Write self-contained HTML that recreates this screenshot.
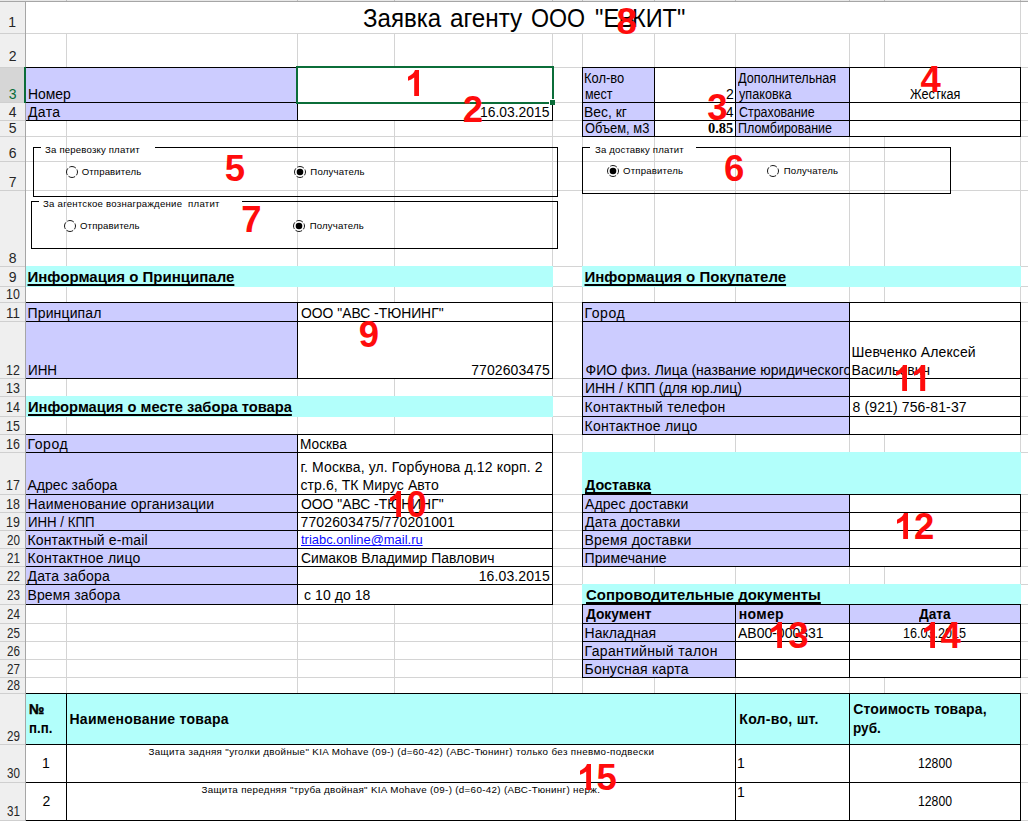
<!DOCTYPE html>
<html><head><meta charset="utf-8"><title>sheet</title>
<style>
html,body{margin:0;padding:0;background:#fff;}
#s{position:relative;width:1028px;height:821px;overflow:hidden;font-family:"Liberation Sans",sans-serif;color:#000;}
#s div,#s svg{position:absolute;}
#s .t{white-space:pre;}
</style></head><body><div id="s">
<div style="left:0px;top:0px;width:1028px;height:821px;background:#fff;"></div>
<div style="left:66px;top:2px;width:1px;height:819px;background:#d4d4d4;"></div>
<div style="left:297px;top:2px;width:1px;height:819px;background:#d4d4d4;"></div>
<div style="left:394px;top:2px;width:1px;height:819px;background:#d4d4d4;"></div>
<div style="left:552px;top:2px;width:1px;height:819px;background:#d4d4d4;"></div>
<div style="left:582px;top:2px;width:1px;height:819px;background:#d4d4d4;"></div>
<div style="left:654px;top:2px;width:1px;height:819px;background:#d4d4d4;"></div>
<div style="left:735px;top:2px;width:1px;height:819px;background:#d4d4d4;"></div>
<div style="left:849px;top:2px;width:1px;height:819px;background:#d4d4d4;"></div>
<div style="left:884px;top:2px;width:1px;height:819px;background:#d4d4d4;"></div>
<div style="left:1020px;top:2px;width:1px;height:819px;background:#d4d4d4;"></div>
<div style="left:26px;top:33px;width:1002px;height:1px;background:#d4d4d4;"></div>
<div style="left:26px;top:67px;width:1002px;height:1px;background:#d4d4d4;"></div>
<div style="left:26px;top:102px;width:1002px;height:1px;background:#d4d4d4;"></div>
<div style="left:26px;top:120px;width:1002px;height:1px;background:#d4d4d4;"></div>
<div style="left:26px;top:136px;width:1002px;height:1px;background:#d4d4d4;"></div>
<div style="left:26px;top:161px;width:1002px;height:1px;background:#d4d4d4;"></div>
<div style="left:26px;top:190px;width:1002px;height:1px;background:#d4d4d4;"></div>
<div style="left:26px;top:266px;width:1002px;height:1px;background:#d4d4d4;"></div>
<div style="left:26px;top:286px;width:1002px;height:1px;background:#d4d4d4;"></div>
<div style="left:26px;top:302px;width:1002px;height:1px;background:#d4d4d4;"></div>
<div style="left:26px;top:321px;width:1002px;height:1px;background:#d4d4d4;"></div>
<div style="left:26px;top:378px;width:1002px;height:1px;background:#d4d4d4;"></div>
<div style="left:26px;top:396px;width:1002px;height:1px;background:#d4d4d4;"></div>
<div style="left:26px;top:416px;width:1002px;height:1px;background:#d4d4d4;"></div>
<div style="left:26px;top:434px;width:1002px;height:1px;background:#d4d4d4;"></div>
<div style="left:26px;top:452px;width:1002px;height:1px;background:#d4d4d4;"></div>
<div style="left:26px;top:494px;width:1002px;height:1px;background:#d4d4d4;"></div>
<div style="left:26px;top:512px;width:1002px;height:1px;background:#d4d4d4;"></div>
<div style="left:26px;top:530px;width:1002px;height:1px;background:#d4d4d4;"></div>
<div style="left:26px;top:548px;width:1002px;height:1px;background:#d4d4d4;"></div>
<div style="left:26px;top:566px;width:1002px;height:1px;background:#d4d4d4;"></div>
<div style="left:26px;top:584px;width:1002px;height:1px;background:#d4d4d4;"></div>
<div style="left:26px;top:604px;width:1002px;height:1px;background:#d4d4d4;"></div>
<div style="left:26px;top:623px;width:1002px;height:1px;background:#d4d4d4;"></div>
<div style="left:26px;top:641px;width:1002px;height:1px;background:#d4d4d4;"></div>
<div style="left:26px;top:659px;width:1002px;height:1px;background:#d4d4d4;"></div>
<div style="left:26px;top:677px;width:1002px;height:1px;background:#d4d4d4;"></div>
<div style="left:26px;top:693px;width:1002px;height:1px;background:#d4d4d4;"></div>
<div style="left:26px;top:744px;width:1002px;height:1px;background:#d4d4d4;"></div>
<div style="left:26px;top:782px;width:1002px;height:1px;background:#d4d4d4;"></div>
<div style="left:26px;top:820px;width:1002px;height:1px;background:#d4d4d4;"></div>
<div style="left:26px;top:2px;width:994px;height:31px;background:#fff;"></div>
<div style="left:0px;top:0px;width:25px;height:821px;background:#efefef;"></div>
<div style="left:25px;top:0px;width:1px;height:821px;background:#a6a6a6;"></div>
<div style="left:0px;top:0px;width:1028px;height:1px;background:#e8e8e8;"></div>
<div style="left:0px;top:1px;width:1028px;height:1px;background:#a6a6a6;"></div>
<div style="left:66px;top:0px;width:1px;height:1px;background:#bdbdbd;"></div>
<div style="left:297px;top:0px;width:1px;height:1px;background:#bdbdbd;"></div>
<div style="left:394px;top:0px;width:1px;height:1px;background:#bdbdbd;"></div>
<div style="left:552px;top:0px;width:1px;height:1px;background:#bdbdbd;"></div>
<div style="left:582px;top:0px;width:1px;height:1px;background:#bdbdbd;"></div>
<div style="left:654px;top:0px;width:1px;height:1px;background:#bdbdbd;"></div>
<div style="left:735px;top:0px;width:1px;height:1px;background:#bdbdbd;"></div>
<div style="left:849px;top:0px;width:1px;height:1px;background:#bdbdbd;"></div>
<div style="left:884px;top:0px;width:1px;height:1px;background:#bdbdbd;"></div>
<div style="left:1020px;top:0px;width:1px;height:1px;background:#bdbdbd;"></div>
<div style="left:0px;top:33px;width:25px;height:1px;background:#cfcfcf;"></div>
<div style="left:0px;top:67px;width:25px;height:1px;background:#cfcfcf;"></div>
<div style="left:0px;top:102px;width:25px;height:1px;background:#cfcfcf;"></div>
<div style="left:0px;top:120px;width:25px;height:1px;background:#cfcfcf;"></div>
<div style="left:0px;top:136px;width:25px;height:1px;background:#cfcfcf;"></div>
<div style="left:0px;top:161px;width:25px;height:1px;background:#cfcfcf;"></div>
<div style="left:0px;top:190px;width:25px;height:1px;background:#cfcfcf;"></div>
<div style="left:0px;top:266px;width:25px;height:1px;background:#cfcfcf;"></div>
<div style="left:0px;top:286px;width:25px;height:1px;background:#cfcfcf;"></div>
<div style="left:0px;top:302px;width:25px;height:1px;background:#cfcfcf;"></div>
<div style="left:0px;top:321px;width:25px;height:1px;background:#cfcfcf;"></div>
<div style="left:0px;top:378px;width:25px;height:1px;background:#cfcfcf;"></div>
<div style="left:0px;top:396px;width:25px;height:1px;background:#cfcfcf;"></div>
<div style="left:0px;top:416px;width:25px;height:1px;background:#cfcfcf;"></div>
<div style="left:0px;top:434px;width:25px;height:1px;background:#cfcfcf;"></div>
<div style="left:0px;top:452px;width:25px;height:1px;background:#cfcfcf;"></div>
<div style="left:0px;top:494px;width:25px;height:1px;background:#cfcfcf;"></div>
<div style="left:0px;top:512px;width:25px;height:1px;background:#cfcfcf;"></div>
<div style="left:0px;top:530px;width:25px;height:1px;background:#cfcfcf;"></div>
<div style="left:0px;top:548px;width:25px;height:1px;background:#cfcfcf;"></div>
<div style="left:0px;top:566px;width:25px;height:1px;background:#cfcfcf;"></div>
<div style="left:0px;top:584px;width:25px;height:1px;background:#cfcfcf;"></div>
<div style="left:0px;top:604px;width:25px;height:1px;background:#cfcfcf;"></div>
<div style="left:0px;top:623px;width:25px;height:1px;background:#cfcfcf;"></div>
<div style="left:0px;top:641px;width:25px;height:1px;background:#cfcfcf;"></div>
<div style="left:0px;top:659px;width:25px;height:1px;background:#cfcfcf;"></div>
<div style="left:0px;top:677px;width:25px;height:1px;background:#cfcfcf;"></div>
<div style="left:0px;top:693px;width:25px;height:1px;background:#cfcfcf;"></div>
<div style="left:0px;top:744px;width:25px;height:1px;background:#cfcfcf;"></div>
<div style="left:0px;top:782px;width:25px;height:1px;background:#cfcfcf;"></div>
<div style="left:0px;top:820px;width:25px;height:1px;background:#cfcfcf;"></div>
<div style="left:0px;top:68px;width:25px;height:34px;background:#d6d6d6;"></div>
<div style="left:24px;top:67px;width:2px;height:36px;background:#0b6d39;"></div>
<div style="left:26px;top:68px;width:272px;height:53px;background:#ccccff;"></div>
<div style="left:298px;top:68px;width:255px;height:53px;background:#fff;"></div>
<div style="left:26px;top:67px;width:527px;height:1px;background:#000;"></div>
<div style="left:26px;top:120px;width:527px;height:1px;background:#000;"></div>
<div style="left:552px;top:67px;width:1px;height:54px;background:#000;"></div>
<div style="left:26px;top:102px;width:527px;height:1px;background:#000;"></div>
<div style="left:297px;top:67px;width:1px;height:54px;background:#000;"></div>
<div style="left:583px;top:68px;width:72px;height:69px;background:#ccccff;"></div>
<div style="left:736px;top:68px;width:114px;height:69px;background:#ccccff;"></div>
<div style="left:655px;top:68px;width:81px;height:69px;background:#fff;"></div>
<div style="left:850px;top:68px;width:171px;height:69px;background:#fff;"></div>
<div style="left:582px;top:67px;width:439px;height:1px;background:#000;"></div>
<div style="left:582px;top:136px;width:439px;height:1px;background:#000;"></div>
<div style="left:582px;top:67px;width:1px;height:70px;background:#000;"></div>
<div style="left:1020px;top:67px;width:1px;height:70px;background:#000;"></div>
<div style="left:582px;top:102px;width:439px;height:1px;background:#000;"></div>
<div style="left:582px;top:120px;width:439px;height:1px;background:#000;"></div>
<div style="left:654px;top:67px;width:1px;height:70px;background:#000;"></div>
<div style="left:735px;top:67px;width:1px;height:70px;background:#000;"></div>
<div style="left:849px;top:67px;width:1px;height:70px;background:#000;"></div>
<div style="left:26px;top:266px;width:527px;height:21px;background:#b2fffb;"></div>
<div style="left:582px;top:266px;width:439px;height:21px;background:#b2fffb;"></div>
<div style="left:26px;top:396px;width:527px;height:21px;background:#b2fffb;"></div>
<div style="left:582px;top:452px;width:439px;height:43px;background:#b2fffb;"></div>
<div style="left:582px;top:584px;width:439px;height:21px;background:#b2fffb;"></div>
<div style="left:26px;top:303px;width:272px;height:76px;background:#ccccff;"></div>
<div style="left:298px;top:303px;width:255px;height:76px;background:#fff;"></div>
<div style="left:26px;top:302px;width:527px;height:1px;background:#000;"></div>
<div style="left:26px;top:378px;width:527px;height:1px;background:#000;"></div>
<div style="left:552px;top:302px;width:1px;height:77px;background:#000;"></div>
<div style="left:297px;top:302px;width:1px;height:77px;background:#000;"></div>
<div style="left:26px;top:321px;width:527px;height:1px;background:#000;"></div>
<div style="left:26px;top:435px;width:272px;height:170px;background:#ccccff;"></div>
<div style="left:298px;top:435px;width:255px;height:170px;background:#fff;"></div>
<div style="left:26px;top:434px;width:527px;height:1px;background:#000;"></div>
<div style="left:26px;top:604px;width:527px;height:1px;background:#000;"></div>
<div style="left:552px;top:434px;width:1px;height:171px;background:#000;"></div>
<div style="left:297px;top:434px;width:1px;height:171px;background:#000;"></div>
<div style="left:26px;top:452px;width:527px;height:1px;background:#000;"></div>
<div style="left:26px;top:494px;width:527px;height:1px;background:#000;"></div>
<div style="left:26px;top:512px;width:527px;height:1px;background:#000;"></div>
<div style="left:26px;top:530px;width:527px;height:1px;background:#000;"></div>
<div style="left:26px;top:548px;width:527px;height:1px;background:#000;"></div>
<div style="left:26px;top:566px;width:527px;height:1px;background:#000;"></div>
<div style="left:26px;top:584px;width:527px;height:1px;background:#000;"></div>
<div style="left:583px;top:303px;width:267px;height:132px;background:#ccccff;"></div>
<div style="left:850px;top:303px;width:171px;height:132px;background:#fff;"></div>
<div style="left:582px;top:302px;width:439px;height:1px;background:#000;"></div>
<div style="left:582px;top:434px;width:439px;height:1px;background:#000;"></div>
<div style="left:582px;top:302px;width:1px;height:133px;background:#000;"></div>
<div style="left:1020px;top:302px;width:1px;height:133px;background:#000;"></div>
<div style="left:849px;top:302px;width:1px;height:133px;background:#000;"></div>
<div style="left:582px;top:321px;width:439px;height:1px;background:#000;"></div>
<div style="left:582px;top:378px;width:439px;height:1px;background:#000;"></div>
<div style="left:582px;top:396px;width:439px;height:1px;background:#000;"></div>
<div style="left:582px;top:416px;width:439px;height:1px;background:#000;"></div>
<div style="left:583px;top:495px;width:267px;height:72px;background:#ccccff;"></div>
<div style="left:850px;top:495px;width:171px;height:72px;background:#fff;"></div>
<div style="left:582px;top:494px;width:439px;height:1px;background:#000;"></div>
<div style="left:582px;top:566px;width:439px;height:1px;background:#000;"></div>
<div style="left:582px;top:494px;width:1px;height:73px;background:#000;"></div>
<div style="left:1020px;top:494px;width:1px;height:73px;background:#000;"></div>
<div style="left:849px;top:494px;width:1px;height:73px;background:#000;"></div>
<div style="left:582px;top:512px;width:439px;height:1px;background:#000;"></div>
<div style="left:582px;top:530px;width:439px;height:1px;background:#000;"></div>
<div style="left:582px;top:548px;width:439px;height:1px;background:#000;"></div>
<div style="left:583px;top:605px;width:153px;height:73px;background:#ccccff;"></div>
<div style="left:736px;top:605px;width:285px;height:19px;background:#ccccff;"></div>
<div style="left:736px;top:624px;width:285px;height:54px;background:#fff;"></div>
<div style="left:582px;top:604px;width:439px;height:1px;background:#000;"></div>
<div style="left:582px;top:677px;width:439px;height:1px;background:#000;"></div>
<div style="left:582px;top:604px;width:1px;height:74px;background:#000;"></div>
<div style="left:1020px;top:604px;width:1px;height:74px;background:#000;"></div>
<div style="left:582px;top:623px;width:439px;height:1px;background:#000;"></div>
<div style="left:582px;top:641px;width:439px;height:1px;background:#000;"></div>
<div style="left:582px;top:659px;width:439px;height:1px;background:#000;"></div>
<div style="left:735px;top:604px;width:1px;height:74px;background:#000;"></div>
<div style="left:849px;top:604px;width:1px;height:74px;background:#000;"></div>
<div style="left:26px;top:694px;width:995px;height:51px;background:#b2fffb;"></div>
<div style="left:26px;top:745px;width:995px;height:76px;background:#fff;"></div>
<div style="left:26px;top:693px;width:995px;height:1px;background:#000;"></div>
<div style="left:26px;top:820px;width:995px;height:1px;background:#000;"></div>
<div style="left:1020px;top:693px;width:1px;height:128px;background:#000;"></div>
<div style="left:26px;top:744px;width:995px;height:1px;background:#000;"></div>
<div style="left:26px;top:782px;width:995px;height:1px;background:#000;"></div>
<div style="left:66px;top:693px;width:1px;height:128px;background:#000;"></div>
<div style="left:735px;top:693px;width:1px;height:128px;background:#000;"></div>
<div style="left:849px;top:693px;width:1px;height:128px;background:#000;"></div>
<div style="left:296px;top:66px;width:258px;height:2px;background:#0b6d39;"></div>
<div style="left:296px;top:66px;width:2px;height:38px;background:#0b6d39;"></div>
<div style="left:552px;top:66px;width:2px;height:33px;background:#0b6d39;"></div>
<div style="left:296px;top:102px;width:253px;height:2px;background:#0b6d39;"></div>
<div style="left:549px;top:99px;width:6px;height:6px;background:#fff;"></div>
<div style="left:550px;top:100px;width:5px;height:5px;background:#0b6d39;"></div>
<div style="left:33px;top:147px;width:8px;height:1px;background:#000;"></div>
<div style="left:155px;top:147px;width:403px;height:1px;background:#000;"></div>
<div style="left:33px;top:196px;width:525px;height:1px;background:#000;"></div>
<div style="left:33px;top:147px;width:1px;height:50px;background:#000;"></div>
<div style="left:557px;top:147px;width:1px;height:50px;background:#000;"></div>
<svg style="left:63.900000000000006px;top:164.1px" width="16" height="16" viewBox="0 0 16 16"><circle cx="8" cy="8" r="5.5" fill="#fff" stroke="#000" stroke-width="0.9" stroke-dasharray="7 1.64" stroke-dashoffset="3.5"/></svg>
<svg style="left:292.0px;top:164.0px" width="16" height="16" viewBox="0 0 16 16"><circle cx="8" cy="8" r="5.5" fill="#fff" stroke="#000" stroke-width="0.9" stroke-dasharray="7 1.64" stroke-dashoffset="3.5"/><circle cx="8" cy="8" r="3.3" fill="#000"/></svg>
<div style="left:31px;top:201px;width:8px;height:1px;background:#000;"></div>
<div style="left:242px;top:201px;width:316px;height:1px;background:#000;"></div>
<div style="left:31px;top:248px;width:527px;height:1px;background:#000;"></div>
<div style="left:31px;top:201px;width:1px;height:48px;background:#000;"></div>
<div style="left:557px;top:201px;width:1px;height:48px;background:#000;"></div>
<svg style="left:62.2px;top:218px" width="16" height="16" viewBox="0 0 16 16"><circle cx="8" cy="8" r="5.5" fill="#fff" stroke="#000" stroke-width="0.9" stroke-dasharray="7 1.64" stroke-dashoffset="3.5"/></svg>
<svg style="left:291.2px;top:217.8px" width="16" height="16" viewBox="0 0 16 16"><circle cx="8" cy="8" r="5.5" fill="#fff" stroke="#000" stroke-width="0.9" stroke-dasharray="7 1.64" stroke-dashoffset="3.5"/><circle cx="8" cy="8" r="3.3" fill="#000"/></svg>
<div style="left:582px;top:147px;width:8px;height:1px;background:#000;"></div>
<div style="left:696px;top:147px;width:255px;height:1px;background:#000;"></div>
<div style="left:582px;top:193px;width:369px;height:1px;background:#000;"></div>
<div style="left:582px;top:147px;width:1px;height:47px;background:#000;"></div>
<div style="left:950px;top:147px;width:1px;height:47px;background:#000;"></div>
<svg style="left:605.2px;top:163.2px" width="16" height="16" viewBox="0 0 16 16"><circle cx="8" cy="8" r="5.5" fill="#fff" stroke="#000" stroke-width="0.9" stroke-dasharray="7 1.64" stroke-dashoffset="3.5"/><circle cx="8" cy="8" r="3.3" fill="#000"/></svg>
<svg style="left:765.2px;top:163.2px" width="16" height="16" viewBox="0 0 16 16"><circle cx="8" cy="8" r="5.5" fill="#fff" stroke="#000" stroke-width="0.9" stroke-dasharray="7 1.64" stroke-dashoffset="3.5"/></svg>
<div class="t" style="top:15.01px;font-size:14px;line-height:14px;color:#262626;left:8.3px;">1</div>
<div class="t" style="top:49.01px;font-size:14px;line-height:14px;color:#262626;left:8.8px;">2</div>
<div class="t" style="top:87.01px;font-size:14px;line-height:14px;color:#0b6d39;left:8.8px;">3</div>
<div class="t" style="top:105.01px;font-size:14px;line-height:14px;color:#262626;left:8.8px;">4</div>
<div class="t" style="top:121.01px;font-size:14px;line-height:14px;color:#262626;left:8.8px;">5</div>
<div class="t" style="top:146.01px;font-size:14px;line-height:14px;color:#262626;left:8.8px;">6</div>
<div class="t" style="top:175.01px;font-size:14px;line-height:14px;color:#262626;left:8.8px;">7</div>
<div class="t" style="top:251.01px;font-size:14px;line-height:14px;color:#262626;left:8.8px;">8</div>
<div class="t" style="top:270.01px;font-size:14px;line-height:14px;color:#262626;left:8.8px;">9</div>
<div class="t" style="top:287.01px;font-size:14px;line-height:14px;color:#262626;left:5.61px;transform:scaleX(0.886);transform-origin:0 0;">10</div>
<div class="t" style="top:306.01px;font-size:14px;line-height:14px;color:#262626;left:5.55px;transform:scaleX(0.9529);transform-origin:0 0;">11</div>
<div class="t" style="top:363.01px;font-size:14px;line-height:14px;color:#262626;left:5.61px;transform:scaleX(0.886);transform-origin:0 0;">12</div>
<div class="t" style="top:381.01px;font-size:14px;line-height:14px;color:#262626;left:5.61px;transform:scaleX(0.886);transform-origin:0 0;">13</div>
<div class="t" style="top:400.01px;font-size:14px;line-height:14px;color:#262626;left:5.61px;transform:scaleX(0.886);transform-origin:0 0;">14</div>
<div class="t" style="top:419.01px;font-size:14px;line-height:14px;color:#262626;left:5.61px;transform:scaleX(0.886);transform-origin:0 0;">15</div>
<div class="t" style="top:437.01px;font-size:14px;line-height:14px;color:#262626;left:5.61px;transform:scaleX(0.886);transform-origin:0 0;">16</div>
<div class="t" style="top:478.01px;font-size:14px;line-height:14px;color:#262626;left:5.61px;transform:scaleX(0.886);transform-origin:0 0;">17</div>
<div class="t" style="top:497.01px;font-size:14px;line-height:14px;color:#262626;left:5.61px;transform:scaleX(0.886);transform-origin:0 0;">18</div>
<div class="t" style="top:515.01px;font-size:14px;line-height:14px;color:#262626;left:5.61px;transform:scaleX(0.886);transform-origin:0 0;">19</div>
<div class="t" style="top:533.01px;font-size:14px;line-height:14px;color:#262626;left:6.5px;transform:scaleX(0.8298);transform-origin:0 0;">20</div>
<div class="t" style="top:551.01px;font-size:14px;line-height:14px;color:#262626;left:6.5px;transform:scaleX(0.8298);transform-origin:0 0;">21</div>
<div class="t" style="top:569.01px;font-size:14px;line-height:14px;color:#262626;left:6.5px;transform:scaleX(0.8298);transform-origin:0 0;">22</div>
<div class="t" style="top:588.01px;font-size:14px;line-height:14px;color:#262626;left:6.5px;transform:scaleX(0.8298);transform-origin:0 0;">23</div>
<div class="t" style="top:607.01px;font-size:14px;line-height:14px;color:#262626;left:6.5px;transform:scaleX(0.8298);transform-origin:0 0;">24</div>
<div class="t" style="top:626.01px;font-size:14px;line-height:14px;color:#262626;left:6.5px;transform:scaleX(0.8298);transform-origin:0 0;">25</div>
<div class="t" style="top:644.01px;font-size:14px;line-height:14px;color:#262626;left:6.5px;transform:scaleX(0.8298);transform-origin:0 0;">26</div>
<div class="t" style="top:662.01px;font-size:14px;line-height:14px;color:#262626;left:6.5px;transform:scaleX(0.8298);transform-origin:0 0;">27</div>
<div class="t" style="top:678.01px;font-size:14px;line-height:14px;color:#262626;left:6.5px;transform:scaleX(0.8298);transform-origin:0 0;">28</div>
<div class="t" style="top:729.01px;font-size:14px;line-height:14px;color:#262626;left:6.5px;transform:scaleX(0.8298);transform-origin:0 0;">29</div>
<div class="t" style="top:766.01px;font-size:14px;line-height:14px;color:#262626;left:6.5px;transform:scaleX(0.8298);transform-origin:0 0;">30</div>
<div class="t" style="top:804.01px;font-size:14px;line-height:14px;color:#262626;left:6.5px;transform:scaleX(0.8298);transform-origin:0 0;">31</div>
<div class="t" style="top:6.01px;font-size:25px;line-height:25px;left:363.0px;transform:scaleX(0.963);transform-origin:0 0;">Заявка</div>
<div class="t" style="top:6.01px;font-size:25px;line-height:25px;left:450.13px;transform:scaleX(0.97);transform-origin:0 0;">агенту</div>
<div class="t" style="top:6.01px;font-size:25px;line-height:25px;left:531.07px;transform:scaleX(0.9281);transform-origin:0 0;">ООО</div>
<div class="t" style="top:6.01px;font-size:25px;line-height:25px;left:594.85px;transform:scaleX(0.9466);transform-origin:0 0;">&quot;Е</div>
<div class="t" style="top:6.01px;font-size:25px;line-height:25px;left:618.4px;">В</div>
<div class="t" style="top:6.01px;font-size:25px;line-height:25px;left:631.72px;transform:scaleX(0.9405);transform-origin:0 0;">КИТ&quot;</div>
<div class="t" style="top:87.01px;font-size:14px;line-height:14px;left:27.81px;transform:scaleX(0.9927);transform-origin:0 0;">Номер</div>
<div class="t" style="top:105.01px;font-size:14px;line-height:14px;left:27.9px;letter-spacing:0.395px;">Дата</div>
<div class="t" style="top:105.01px;font-size:14px;line-height:14px;left:479.61px;transform:scaleX(0.9916);transform-origin:0 0;">16.03.2015</div>
<div class="t" style="top:71.01px;font-size:14px;line-height:14px;left:584.08px;transform:scaleX(0.9241);transform-origin:0 0;">Кол-во</div>
<div class="t" style="top:87.01px;font-size:14px;line-height:14px;left:585.0px;transform:scaleX(0.8914);transform-origin:0 0;">мест</div>
<div class="t" style="top:87.01px;font-size:14px;line-height:14px;left:725.9px;">2</div>
<div class="t" style="top:105.01px;font-size:14px;line-height:14px;left:725.65px;">4</div>
<div class="t" style="top:71.01px;font-size:14px;line-height:14px;left:738.1px;transform:scaleX(0.9066);transform-origin:0 0;">Дополнительная</div>
<div class="t" style="top:87.01px;font-size:14px;line-height:14px;left:738.7px;transform:scaleX(0.9039);transform-origin:0 0;">упаковка</div>
<div class="t" style="top:87.01px;font-size:14px;line-height:14px;left:909.7px;transform:scaleX(0.9044);transform-origin:0 0;">Жесткая</div>
<div class="t" style="top:105.01px;font-size:14px;line-height:14px;left:584.01px;transform:scaleX(0.9934);transform-origin:0 0;">Вес, кг</div>
<div class="t" style="top:105.01px;font-size:14px;line-height:14px;left:738.7px;transform:scaleX(0.8894);transform-origin:0 0;">Страхование</div>
<div class="t" style="top:121.01px;font-size:14px;line-height:14px;left:585.0px;transform:scaleX(0.9213);transform-origin:0 0;">Объем, м3</div>
<div class="t" style="top:121.0px;font-size:14.8px;line-height:14.8px;font-family:'Liberation Serif',serif;font-weight:bold;left:708.2px;transform:scaleX(0.9766);transform-origin:0 0;">0.85</div>
<div class="t" style="top:121.01px;font-size:14px;line-height:14px;left:737.81px;transform:scaleX(0.8914);transform-origin:0 0;">Пломбирование</div>
<div class="t" style="top:269.01px;font-size:15px;line-height:15px;font-weight:bold;left:27.5px;letter-spacing:0.012px;text-decoration:underline;text-decoration-thickness:2px;text-underline-offset:2px;text-decoration-skip-ink:none;">Информация о Принципале</div>
<div class="t" style="top:269.01px;font-size:15px;line-height:15px;font-weight:bold;left:584.5px;letter-spacing:0.009px;text-decoration:underline;text-decoration-thickness:2px;text-underline-offset:2px;text-decoration-skip-ink:none;">Информация о Покупателе</div>
<div class="t" style="top:399.01px;font-size:15px;line-height:15px;font-weight:bold;left:27.52px;transform:scaleX(0.9803);transform-origin:0 0;text-decoration:underline;text-decoration-thickness:2px;text-underline-offset:2px;text-decoration-skip-ink:none;">Информация о месте забора товара</div>
<div class="t" style="top:477.01px;font-size:15px;line-height:15px;font-weight:bold;left:585.0px;transform:scaleX(0.9591);transform-origin:0 0;text-decoration:underline;text-decoration-thickness:2px;text-underline-offset:2px;text-decoration-skip-ink:none;">Доставка</div>
<div class="t" style="top:587.01px;font-size:15px;line-height:15px;font-weight:bold;left:585.5px;transform:scaleX(0.9953);transform-origin:0 0;text-decoration:underline;text-decoration-thickness:2px;text-underline-offset:2px;text-decoration-skip-ink:none;">Сопроводительные документы</div>
<div class="t" style="top:306.01px;font-size:14px;line-height:14px;left:27.5px;letter-spacing:0.143px;">Принципал</div>
<div class="t" style="top:363.01px;font-size:14px;line-height:14px;left:27.54px;transform:scaleX(0.9584);transform-origin:0 0;">ИНН</div>
<div class="t" style="top:306.01px;font-size:14px;line-height:14px;left:300.5px;transform:scaleX(0.9905);transform-origin:0 0;">ООО &quot;АВС -ТЮНИНГ&quot;</div>
<div class="t" style="top:363.01px;font-size:14px;line-height:14px;left:471.2px;letter-spacing:0.081px;">7702603475</div>
<div class="t" style="top:437.01px;font-size:14px;line-height:14px;left:27.5px;letter-spacing:0.576px;">Город</div>
<div class="t" style="top:478.01px;font-size:14px;line-height:14px;left:27.5px;letter-spacing:0.021px;">Адрес забора</div>
<div class="t" style="top:497.01px;font-size:14px;line-height:14px;left:27.5px;letter-spacing:0.176px;">Наименование организации</div>
<div class="t" style="top:515.01px;font-size:14px;line-height:14px;left:27.55px;transform:scaleX(0.9462);transform-origin:0 0;">ИНН / КПП</div>
<div class="t" style="top:533.01px;font-size:14px;line-height:14px;left:27.5px;letter-spacing:0.13px;">Контактный e-mail</div>
<div class="t" style="top:551.01px;font-size:14px;line-height:14px;left:27.5px;letter-spacing:0.253px;">Контактное лицо</div>
<div class="t" style="top:569.01px;font-size:14px;line-height:14px;left:27.5px;letter-spacing:0.181px;">Дата забора</div>
<div class="t" style="top:588.01px;font-size:14px;line-height:14px;left:27.5px;letter-spacing:0.109px;">Время забора</div>
<div class="t" style="top:437.01px;font-size:14px;line-height:14px;left:299.52px;transform:scaleX(0.9785);transform-origin:0 0;">Москва</div>
<div class="t" style="top:460.01px;font-size:14px;line-height:14px;left:300.5px;letter-spacing:0.13px;">г. Москва, ул. Горбунова д.12 корп. 2</div>
<div class="t" style="top:478.01px;font-size:14px;line-height:14px;left:300.5px;letter-spacing:0.083px;">стр.6, ТК Мирус Авто</div>
<div class="t" style="top:497.01px;font-size:14px;line-height:14px;left:300.5px;transform:scaleX(0.9905);transform-origin:0 0;">ООО &quot;АВС -ТЮНИНГ&quot;</div>
<div class="t" style="top:515.01px;font-size:14px;line-height:14px;left:300.5px;letter-spacing:0.129px;">7702603475/770201001</div>
<div class="t" style="top:533.0px;font-size:13px;line-height:13px;color:#0a0aff;left:300.5px;transform:scaleX(0.9945);transform-origin:0 0;text-decoration:underline;text-decoration-thickness:1px;text-underline-offset:1px;text-decoration-skip-ink:none;">triabc.online@mail.ru</div>
<div class="t" style="top:551.01px;font-size:14px;line-height:14px;left:300.5px;transform:scaleX(0.9929);transform-origin:0 0;">Симаков Владимир Павлович</div>
<div class="t" style="top:569.01px;font-size:14px;line-height:14px;left:478.7px;letter-spacing:0.113px;">16.03.2015</div>
<div class="t" style="top:588.01px;font-size:14px;line-height:14px;left:304.1px;letter-spacing:0.046px;">с 10 до 18</div>
<div class="t" style="top:306.01px;font-size:14px;line-height:14px;left:584.5px;letter-spacing:0.576px;">Город</div>
<div style="left:583px;top:0;width:266px;height:821px;overflow:hidden"><div class="t" style="top:363.01px;font-size:14px;line-height:14px;left:2.5px;letter-spacing:0.014px;">ФИО физ. Лица (название юридического</div></div>
<div class="t" style="top:381.01px;font-size:14px;line-height:14px;left:584.5px;transform:scaleX(0.9966);transform-origin:0 0;">ИНН / КПП (для юр.лиц)</div>
<div class="t" style="top:400.01px;font-size:14px;line-height:14px;left:584.5px;letter-spacing:0.25px;">Контактный телефон</div>
<div class="t" style="top:419.01px;font-size:14px;line-height:14px;left:584.5px;letter-spacing:0.253px;">Контактное лицо</div>
<div class="t" style="top:345.01px;font-size:14px;line-height:14px;left:851.6px;letter-spacing:0.11px;">Шевченко Алексей</div>
<div class="t" style="top:363.01px;font-size:14px;line-height:14px;left:851.6px;letter-spacing:0.072px;">Васильевич</div>
<div class="t" style="top:400.01px;font-size:14px;line-height:14px;left:852.6px;letter-spacing:0.119px;">8 (921) 756-81-37</div>
<div class="t" style="top:497.01px;font-size:14px;line-height:14px;left:585px;letter-spacing:0.075px;">Адрес доставки</div>
<div class="t" style="top:515.01px;font-size:14px;line-height:14px;left:585px;letter-spacing:0.171px;">Дата доставки</div>
<div class="t" style="top:533.01px;font-size:14px;line-height:14px;left:584.5px;letter-spacing:0.187px;">Время доставки</div>
<div class="t" style="top:551.01px;font-size:14px;line-height:14px;left:584.5px;letter-spacing:0.111px;">Примечание</div>
<div class="t" style="top:607.01px;font-size:14px;line-height:14px;font-weight:bold;left:585.5px;transform:scaleX(0.9828);transform-origin:0 0;">Документ</div>
<div class="t" style="top:607.01px;font-size:14px;line-height:14px;font-weight:bold;left:738.75px;letter-spacing:0.321px;">номер</div>
<div class="t" style="top:607.01px;font-size:14px;line-height:14px;font-weight:bold;left:918.7px;transform:scaleX(0.978);transform-origin:0 0;">Дата</div>
<div class="t" style="top:626.01px;font-size:14px;line-height:14px;left:584.5px;letter-spacing:0.022px;">Накладная</div>
<div class="t" style="top:626.01px;font-size:14px;line-height:14px;left:738.0px;transform:scaleX(0.9989);transform-origin:0 0;">АВ00-000331</div>
<div class="t" style="top:626.01px;font-size:14px;line-height:14px;left:903.2px;transform:scaleX(0.8992);transform-origin:0 0;">16.03.2015</div>
<div class="t" style="top:644.01px;font-size:14px;line-height:14px;left:584.5px;letter-spacing:0.353px;">Гарантийный талон</div>
<div class="t" style="top:662.01px;font-size:14px;line-height:14px;left:584.5px;letter-spacing:0.212px;">Бонусная карта</div>
<div class="t" style="top:702.01px;font-size:14px;line-height:14px;font-weight:bold;left:28.8px;transform:scaleX(0.9733);transform-origin:0 0;-webkit-text-stroke:0.5px currentColor;">№</div>
<div class="t" style="top:721.01px;font-size:14px;line-height:14px;font-weight:bold;left:28.75px;transform:scaleX(0.9453);transform-origin:0 0;">п.п.</div>
<div class="t" style="top:712.01px;font-size:14px;line-height:14px;font-weight:bold;left:69.5px;letter-spacing:0.259px;">Наименование товара</div>
<div class="t" style="top:712.01px;font-size:14px;line-height:14px;font-weight:bold;left:739.3px;letter-spacing:0.285px;">Кол-во, шт.</div>
<div class="t" style="top:702.01px;font-size:14px;line-height:14px;font-weight:bold;left:853.2px;letter-spacing:0.132px;">Стоимость товара,</div>
<div class="t" style="top:721.01px;font-size:14px;line-height:14px;font-weight:bold;left:853.2px;transform:scaleX(0.9676);transform-origin:0 0;">руб.</div>
<div class="t" style="top:756.01px;font-size:14px;line-height:14px;left:41.9px;">1</div>
<div class="t" style="top:794.01px;font-size:14px;line-height:14px;left:42.5px;">2</div>
<div class="t" style="top:747.02px;font-size:9.8px;line-height:9.8px;left:148.5px;letter-spacing:0.354px;">Защита задняя &quot;уголки двойные&quot; KIA Mohave (09-) (d=60-42) (АВС-Тюнинг) только без пневмо-подвески</div>
<div class="t" style="top:785.02px;font-size:9.8px;line-height:9.8px;left:201.5px;letter-spacing:0.316px;">Защита передняя &quot;труба двойная&quot; KIA Mohave (09-) (d=60-42) (АВС-Тюнинг) нерж.</div>
<div class="t" style="top:756.01px;font-size:14px;line-height:14px;left:737.05px;">1</div>
<div class="t" style="top:785.01px;font-size:14px;line-height:14px;left:737.05px;">1</div>
<div class="t" style="top:756.01px;font-size:14px;line-height:14px;left:918.33px;transform:scaleX(0.873);transform-origin:0 0;">12800</div>
<div class="t" style="top:794.01px;font-size:14px;line-height:14px;left:918.33px;transform:scaleX(0.873);transform-origin:0 0;">12800</div>
<div class="t" style="top:145.01px;font-size:9.6px;line-height:9.6px;left:45.1px;letter-spacing:0.175px;">За перевозку платит</div>
<div class="t" style="top:167.0px;font-size:9.6px;line-height:9.6px;left:81.7px;letter-spacing:0.142px;">Отправитель</div>
<div class="t" style="top:167.01px;font-size:9.6px;line-height:9.6px;left:310.3px;letter-spacing:0.207px;">Получатель</div>
<div class="t" style="top:199.01px;font-size:9.6px;line-height:9.6px;left:43px;letter-spacing:0.249px;">За агентское вознаграждение  платит</div>
<div class="t" style="top:221.01px;font-size:9.6px;line-height:9.6px;left:80px;letter-spacing:0.142px;">Отправитель</div>
<div class="t" style="top:221.02px;font-size:9.6px;line-height:9.6px;left:309.7px;letter-spacing:0.173px;">Получатель</div>
<div class="t" style="top:145.01px;font-size:9.6px;line-height:9.6px;left:595px;letter-spacing:0.151px;">За доставку платит</div>
<div class="t" style="top:166.01px;font-size:9.6px;line-height:9.6px;left:623px;letter-spacing:0.192px;">Отправитель</div>
<div class="t" style="top:166.01px;font-size:9.6px;line-height:9.6px;left:783.75px;letter-spacing:0.201px;">Получатель</div>
<div class="t" style="top:92.02px;font-size:36.5px;line-height:36.5px;font-weight:bold;color:#ff0c0c;left:462.85px;">2</div>
<div class="t" style="top:90.02px;font-size:36.5px;line-height:36.5px;font-weight:bold;color:#ff0c0c;left:707.25px;">3</div>
<div class="t" style="top:62.01px;font-size:36.5px;line-height:36.5px;font-weight:bold;color:#ff0c0c;left:920.5px;">4</div>
<div class="t" style="top:151.01px;font-size:36.5px;line-height:36.5px;font-weight:bold;color:#ff0c0c;left:224.8px;">5</div>
<div class="t" style="top:151.0px;font-size:36.5px;line-height:36.5px;font-weight:bold;color:#ff0c0c;left:724.05px;">6</div>
<div class="t" style="top:202.01px;font-size:36.5px;line-height:36.5px;font-weight:bold;color:#ff0c0c;left:241.25px;">7</div>
<div class="t" style="top:4.01px;font-size:36.5px;line-height:36.5px;font-weight:bold;color:#ff0c0c;left:616.55px;">8</div>
<div class="t" style="top:317.01px;font-size:36.5px;line-height:36.5px;font-weight:bold;color:#ff0c0c;left:358.75px;">9</div>
<div class="t" style="top:487.01px;font-size:36.5px;line-height:36.5px;font-weight:bold;color:#ff0c0c;left:406.6px;">0</div>
<div class="t" style="top:509.01px;font-size:36.5px;line-height:36.5px;font-weight:bold;color:#ff0c0c;left:913.95px;">2</div>
<div class="t" style="top:618.01px;font-size:36.5px;line-height:36.5px;font-weight:bold;color:#ff0c0c;left:788.25px;">3</div>
<div class="t" style="top:618.01px;font-size:36.5px;line-height:36.5px;font-weight:bold;color:#ff0c0c;left:940.4px;">4</div>
<div class="t" style="top:760.01px;font-size:36.5px;line-height:36.5px;font-weight:bold;color:#ff0c0c;left:596.55px;">5</div>
<svg style="left:407.9px;top:70.0px" width="11.2" height="25.9" viewBox="0 0 11.2 25.9"><path fill="#ff0c0c" d="M11.2,0 L11.2,25.9 L6.2,25.9 L6.2,7.5 Q3.4,9.8 0,10.8 L0,6.7 Q2.6,5.6 4.6,3.8 Q6.3,2.2 7.0,0 Z"/></svg>
<svg style="left:389.8px;top:490.7px" width="11.2" height="25.9" viewBox="0 0 11.2 25.9"><path fill="#ff0c0c" d="M11.2,0 L11.2,25.9 L6.2,25.9 L6.2,7.5 Q3.4,9.8 0,10.8 L0,6.7 Q2.6,5.6 4.6,3.8 Q6.3,2.2 7.0,0 Z"/></svg>
<svg style="left:896.3px;top:365.0px" width="11.2" height="25.9" viewBox="0 0 11.2 25.9"><path fill="#ff0c0c" d="M11.2,0 L11.2,25.9 L6.2,25.9 L6.2,7.5 Q3.4,9.8 0,10.8 L0,6.7 Q2.6,5.6 4.6,3.8 Q6.3,2.2 7.0,0 Z"/></svg>
<svg style="left:914.4px;top:365.0px" width="11.2" height="25.9" viewBox="0 0 11.2 25.9"><path fill="#ff0c0c" d="M11.2,0 L11.2,25.9 L6.2,25.9 L6.2,7.5 Q3.4,9.8 0,10.8 L0,6.7 Q2.6,5.6 4.6,3.8 Q6.3,2.2 7.0,0 Z"/></svg>
<svg style="left:896.8px;top:513.1px" width="11.2" height="25.9" viewBox="0 0 11.2 25.9"><path fill="#ff0c0c" d="M11.2,0 L11.2,25.9 L6.2,25.9 L6.2,7.5 Q3.4,9.8 0,10.8 L0,6.7 Q2.6,5.6 4.6,3.8 Q6.3,2.2 7.0,0 Z"/></svg>
<svg style="left:771.0px;top:622.1px" width="11.2" height="25.9" viewBox="0 0 11.2 25.9"><path fill="#ff0c0c" d="M11.2,0 L11.2,25.9 L6.2,25.9 L6.2,7.5 Q3.4,9.8 0,10.8 L0,6.7 Q2.6,5.6 4.6,3.8 Q6.3,2.2 7.0,0 Z"/></svg>
<svg style="left:924.0px;top:622.1px" width="11.2" height="25.9" viewBox="0 0 11.2 25.9"><path fill="#ff0c0c" d="M11.2,0 L11.2,25.9 L6.2,25.9 L6.2,7.5 Q3.4,9.8 0,10.8 L0,6.7 Q2.6,5.6 4.6,3.8 Q6.3,2.2 7.0,0 Z"/></svg>
<svg style="left:579.9px;top:763.8px" width="11.2" height="25.9" viewBox="0 0 11.2 25.9"><path fill="#ff0c0c" d="M11.2,0 L11.2,25.9 L6.2,25.9 L6.2,7.5 Q3.4,9.8 0,10.8 L0,6.7 Q2.6,5.6 4.6,3.8 Q6.3,2.2 7.0,0 Z"/></svg>
</div></body></html>
